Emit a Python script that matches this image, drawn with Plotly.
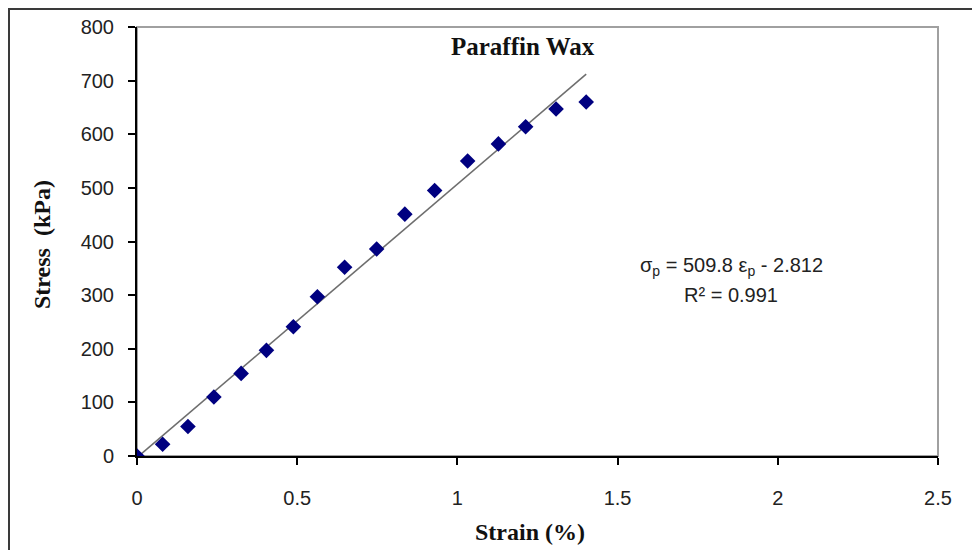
import plotly.graph_objects as go

# Data
strain = [0, 0.080, 0.159, 0.240, 0.325, 0.404, 0.488, 0.563, 0.648, 0.748,
          0.836, 0.929, 1.032, 1.128, 1.213, 1.308, 1.402]
stress = [0, 22, 55, 110, 154, 197, 241, 297, 352, 386,
          451, 495, 550, 582, 614, 647, 660]

slope = 509.8
intercept = -2.812
r2 = 0.991

x_ticks = [0, 0.5, 1, 1.5, 2, 2.5]
x_ticklabels = ["0", "0.5", "1", "1.5", "2", "2.5"]
y_ticks = [0, 100, 200, 300, 400, 500, 600, 700, 800]

fit_x = [0, max(strain)]
fit_y = [slope * v + intercept for v in fit_x]

# The page body adds an 8px margin; work in screen coordinates and convert.
OFF = 8
W, H = 964, 542
L, T = 137 - OFF, 27 - OFF
R = W - (938 - OFF)
B = H - (456 - OFF)
pw, ph = W - L - R, H - T - B


def px(sx):
    return (sx - OFF - L) / pw


def py(sy):
    return (H - B - (sy - OFF)) / ph


fig = go.Figure()
fig.add_trace(go.Scatter(x=fit_x, y=fit_y, mode="lines",
                         line=dict(color="#6e6e6e", width=1.6),
                         hoverinfo="skip", showlegend=False))
fig.add_trace(go.Scatter(x=strain, y=stress, mode="markers",
                         marker=dict(symbol="diamond", size=12, color="#000080"),
                         showlegend=False))

tick_font = dict(family="Liberation Sans, Arial, sans-serif", size=20, color="#222222")
title_font = dict(family="Liberation Serif, Times New Roman, serif", size=24, color="#111111")

fig.update_layout(
    width=W, height=H,
    margin=dict(l=L, r=R, t=T, b=B, pad=0, autoexpand=False),
    paper_bgcolor="white", plot_bgcolor="white",
    showlegend=False,
    xaxis=dict(range=[0, 2.5], tickvals=x_ticks, ticktext=x_ticklabels,
               showgrid=False, zeroline=False, showline=True,
               linecolor="#000000", linewidth=2, ticks="outside", ticklen=7,
               tickwidth=1.5, tickcolor="#000000", tickfont=tick_font,
               ticklabelstandoff=16),
    yaxis=dict(range=[0, 800], tickvals=y_ticks,
               showgrid=False, zeroline=False, showline=True,
               linecolor="#000000", linewidth=2, ticks="outside", ticklen=7,
               tickwidth=1.5, tickcolor="#000000", tickfont=tick_font,
               ticklabelstandoff=10),
    shapes=[
        # plot area border (gray, top/right)
        dict(type="rect", xref="paper", yref="paper", x0=0, y0=0, x1=1, y1=1,
             line=dict(color="#a0a0a0", width=2), layer="below"),
        # outer chart border (right and bottom edges lie beyond the view)
        dict(type="rect", xref="paper", yref="paper",
             x0=(1 - L) / pw, x1=(W + 10 - L) / pw,
             y0=(H - B - (H + 10)) / ph, y1=(H - B - 1) / ph,
             line=dict(color="#3a3a3a", width=2)),
    ],
    annotations=[
        dict(text="<b>Paraffin Wax</b>", xref="paper", yref="paper",
             x=px(523), y=py(46), showarrow=False,
             xanchor="center", yanchor="middle",
             font=dict(family="Liberation Serif, Times New Roman, serif", size=25, color="#111111")),
        dict(text="<b>Strain (%)</b>", xref="paper", yref="paper",
             x=px(530), y=py(532), showarrow=False,
             xanchor="center", yanchor="middle", font=title_font),
        dict(text="<b>Stress  (kPa)</b>", xref="paper", yref="paper",
             x=px(42), y=py(245), showarrow=False,
             textangle=-90, xanchor="center", yanchor="middle", font=title_font),
        dict(text="σ<sub>p</sub> = %.1f ε<sub>p</sub> - %.3f" % (slope, -intercept),
             xref="paper", yref="paper",
             x=px(731), y=py(266), showarrow=False,
             xanchor="center", yanchor="middle", font=tick_font),
        dict(text="R² = %.3f" % r2, xref="paper", yref="paper",
             x=px(731), y=py(295), showarrow=False,
             xanchor="center", yanchor="middle", font=tick_font),
    ],
)

fig.write_html("out.html")
